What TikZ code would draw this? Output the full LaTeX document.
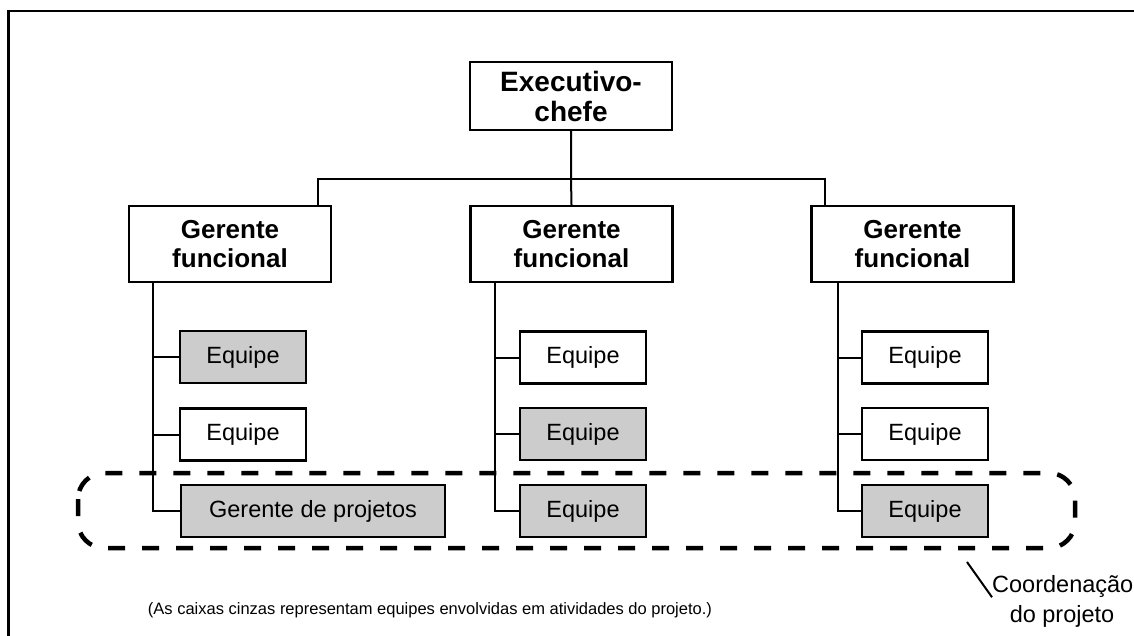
\documentclass[tikz,border=0pt]{standalone}
\usepackage{fontspec}
\setmainfont{Liberation Sans}
\definecolor{teamgray}{RGB}{204,204,204}
\begin{document}
\begin{tikzpicture}[x=1pt,y=-1pt,
  box/.style={draw, line width=2.4pt, inner sep=0pt, align=center},
  mgr/.style={box, minimum width=202pt, minimum height=76pt, font=\fontsize{26}{29.5}\selectfont\bfseries},
  team/.style={box, minimum width=126pt, minimum height=52pt, font=\fontsize{23.5}{26}\selectfont},
  hi/.style={fill=teamgray},
  conn/.style={line width=2pt},
  group/.style={line width=4.5pt, dash pattern=on 17pt off 17pt, rounded corners=26pt},
  note/.style={font=\fontsize{23.5}{28}\selectfont, inner sep=0pt}]
\useasboundingbox (0,0) rectangle (1134,636);
% frame
\draw[line width=2.6pt] (8.5,636) -- (8.5,11) -- (1134,11);

% nodes
\node[mgr, minimum height=68pt, font=\fontsize{28}{30}\selectfont\bfseries] (ex) at (571,96) {Executivo-\\chefe};
\node[mgr] (gf1) at (230,244) {Gerente\\funcional};
\node[mgr] (gf2) at (571.5,244) {Gerente\\funcional};
\node[mgr] (gf3) at (912.5,244) {Gerente\\funcional};

\node[team, hi] (e11) at (243,357) {Equipe};
\node[team] (e12) at (243,434.5) {Equipe};
\node[team, hi, minimum width=264pt] (gp) at (313,511) {Gerente de projetos};

\node[team] (e21) at (583,357.5) {Equipe};
\node[team, hi] (e22) at (583,434) {Equipe};
\node[team, hi] (e23) at (583,511) {Equipe};

\node[team] (e31) at (925,357.5) {Equipe};
\node[team] (e32) at (925,434) {Equipe};
\node[team, hi] (e33) at (925,511) {Equipe};

% connectors top
\coordinate (bus) at (571,179);
\coordinate (b1) at (318,179);
\coordinate (b3) at (825,179);
\draw[conn] (ex.south) -- (bus) -- (gf2.north);
\draw[conn] (b1 |- gf1.north) -- (b1) -- (b3) -- (b3 |- gf3.north);

% column connectors
\coordinate (v1) at (153,0);
\coordinate (v2) at (495,0);
\coordinate (v3) at (838,0);
\draw[conn] (v1 |- gf1.south) -- (v1 |- gp.west) -- (gp.west);
\draw[conn] (v1 |- e11.west) -- (e11.west);
\draw[conn] (v1 |- e12.west) -- (e12.west);
\draw[conn] (v2 |- gf2.south) -- (v2 |- e23.west) -- (e23.west);
\draw[conn] (v2 |- e21.west) -- (e21.west);
\draw[conn] (v2 |- e22.west) -- (e22.west);
\draw[conn] (v3 |- gf3.south) -- (v3 |- e33.west) -- (e33.west);
\draw[conn] (v3 |- e31.west) -- (e31.west);
\draw[conn] (v3 |- e32.west) -- (e32.west);

% project coordination group
\draw[group] (78,473) rectangle (1075,548);

% labels
\node[font=\fontsize{16.5}{20}\selectfont, inner sep=0pt] (cap) at (430,610) {(As caixas cinzas representam equipes envolvidas em atividades do projeto.)};
\node[note, anchor=west] (co1) at (992,586) {Coordenação};
\node[note] (co2) at (1062,616) {do projeto};
\coordinate (tick) at (967,562);
\draw[line width=2pt] (tick) -- (co1.south west);
\end{tikzpicture}
\end{document}
